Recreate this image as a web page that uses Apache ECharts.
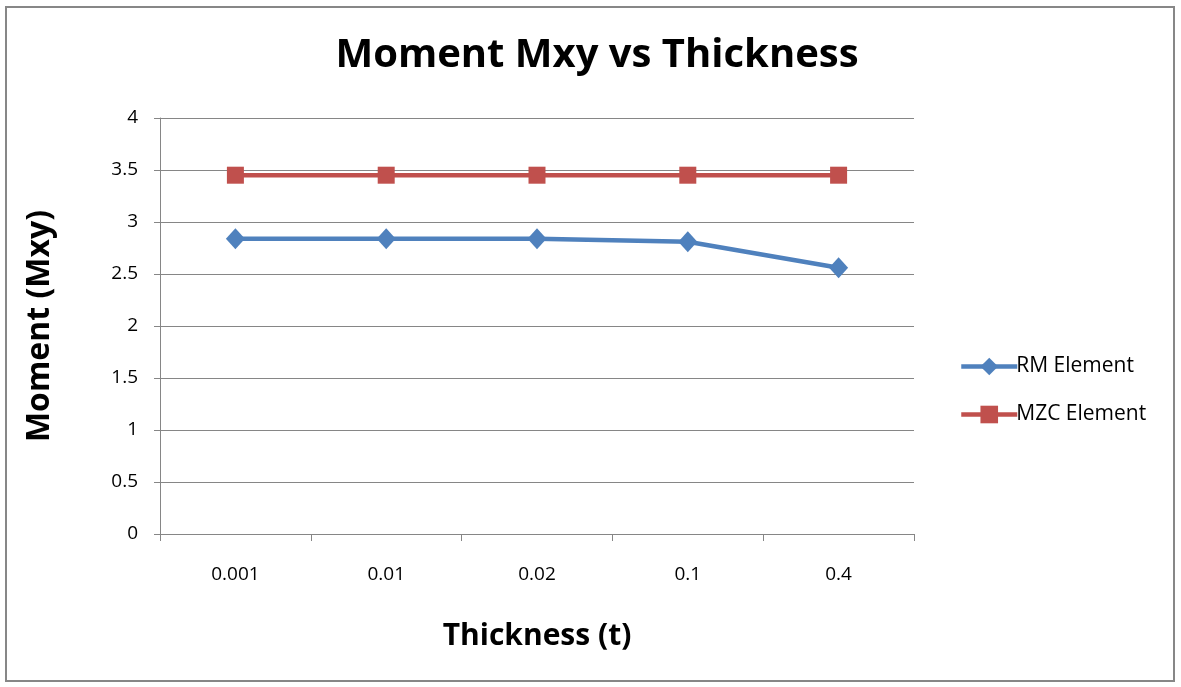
<!DOCTYPE html>
<html>
<head>
<meta charset="utf-8">
<script src="https://cdn.jsdelivr.net/npm/echarts@6/dist/echarts.min.js"></script>
<style>
html,body{margin:0;padding:0;background:#fff;}
#c{width:1181px;height:687px;}
</style>
</head>
<body>
<div id="c"></div>
<script>
var categories = ['0.001', '0.01', '0.02', '0.1', '0.4'];
var rmValues = [2.84, 2.84, 2.84, 2.81, 2.56];
var mzcValues = [3.45, 3.45, 3.45, 3.45, 3.45];
var yTicks = { min: 0, max: 4, interval: 0.5 };

var chart = echarts.init(document.getElementById('c'));
var font = '"Open Sans", "Liberation Sans", sans-serif';
chart.setOption({
  backgroundColor: '#fff',
  animation: false,
  graphic: [{
    type: 'rect',
    shape: { x: 6, y: 7, width: 1168, height: 674 },
    style: { fill: 'none', stroke: '#878787', lineWidth: 2 }
  }],
  title: {
    text: 'Moment Mxy vs Thickness',
    left: 592, top: 31, textAlign: 'center',
    textStyle: { fontFamily: font, fontSize: 40, fontWeight: 'bold', color: '#000' }
  },
  legend: {
    orient: 'vertical',
    left: 954, top: 351,
    itemWidth: 56, itemHeight: 22, itemGap: 27,
    lineStyle: { width: 4.5 },
    textStyle: { fontFamily: font, fontSize: 21, color: '#000', padding: [0, 0, 0, -6] },
    data: ['RM Element', 'MZC Element']
  },
  grid: { left: 160, right: 267, top: 118, bottom: 153 },
  xAxis: {
    type: 'category',
    data: categories,
    boundaryGap: true,
    name: 'Thickness (t)',
    nameLocation: 'middle',
    nameGap: 87,
    nameTextStyle: { fontFamily: font, fontSize: 30, fontWeight: 'bold', color: '#000' },
    axisLine: { lineStyle: { color: '#868686', width: 1 } },
    axisTick: { show: true, length: 7, alignWithLabel: false, lineStyle: { color: '#868686' } },
    axisLabel: { fontFamily: font, fontSize: 19, color: '#000', margin: 31 },
    splitLine: { show: false }
  },
  yAxis: {
    type: 'value',
    min: yTicks.min, max: yTicks.max, interval: yTicks.interval,
    name: 'Moment (Mxy)',
    nameLocation: 'middle',
    nameGap: 104,
    nameTextStyle: { fontFamily: font, fontSize: 32, fontWeight: 'bold', color: '#000' },
    axisLine: { show: true, lineStyle: { color: '#868686', width: 1 } },
    axisTick: { show: true, length: 6, lineStyle: { color: '#868686' } },
    axisLabel: { fontFamily: font, fontSize: 19, color: '#000', margin: 22 },
    splitLine: { show: true, lineStyle: { color: '#868686', width: 1 } }
  },
  series: [{
    name: 'RM Element',
    type: 'line',
    data: rmValues,
    symbol: 'diamond',
    symbolSize: [19, 21],
    itemStyle: { color: '#4F81BD' },
    lineStyle: { color: '#4F81BD', width: 4.5 }
  }, {
    name: 'MZC Element',
    type: 'line',
    data: mzcValues,
    symbol: 'rect',
    symbolSize: 17,
    itemStyle: { color: '#C0504D' },
    lineStyle: { color: '#C0504D', width: 4.5 }
  }]
});
</script>
</body>
</html>
